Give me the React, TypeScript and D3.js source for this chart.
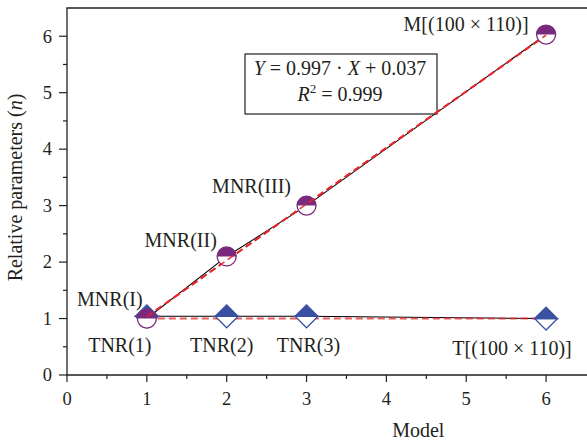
import React from 'react';
import * as d3 from 'd3';

const MODEL_X = [1, 2, 3, 6];
const M_VALUES = [1.0, 2.1, 3.0, 6.03];
const T_VALUES = [1.04, 1.04, 1.04, 1.0];
const M_LABELS = ['MNR(I)', 'MNR(II)', 'MNR(III)', 'M[(100 × 110)]'];
const T_LABELS = ['TNR(1)', 'TNR(2)', 'TNR(3)', 'T[(100 × 110)]'];

// Fit lines (red dashed)
const FIT_X = [1, 6];
const M_FIT = [1.034, 6.019];
const T_FIT = [1.0, 1.0];

const X_TICKS = [0, 1, 2, 3, 4, 5, 6];
const Y_TICKS = [0, 1, 2, 3, 4, 5, 6];

const W = 587;
const H = 445;
const margin = { top: 8, right: 1, bottom: 70, left: 67 };
const FONT = '"Liberation Serif", "DejaVu Serif", serif';
const TEXT = '#231f20';
const PURPLE = '#7a2a7c';
const BLUE = '#3a50a0';
const RED = '#e8262a';
const FS = 20;

export default function App() {
  const innerW = W - margin.left - margin.right;
  const innerH = H - margin.top - margin.bottom;

  const x = d3.scaleLinear().domain([0, 6.5]).range([0, innerW]);
  const y = d3.scaleLinear().domain([0, 6.5]).range([innerH, 0]);

  const line = d3.line<[number, number]>()
    .x((d) => x(d[0]))
    .y((d) => y(d[1]));

  const mPts = MODEL_X.map((v, i) => [v, M_VALUES[i]] as [number, number]);
  const tPts = MODEL_X.map((v, i) => [v, T_VALUES[i]] as [number, number]);
  const mFit = FIT_X.map((v, i) => [v, M_FIT[i]] as [number, number]);
  const tFit = FIT_X.map((v, i) => [v, T_FIT[i]] as [number, number]);

  const minorX = d3.range(0.5, 6.5, 1);
  const minorY = d3.range(0.5, 6.5, 1);

  const r = 9.5;
  const dSize = 11.5;

  // label offsets relative to point (dx, dy of text baseline)
  const mLabelPos = [
    [-37, -13],
    [-46, -9],
    [-55, -13],
    [-80, -4],
  ];
  const tLabelPos = [
    [-27, 36],
    [-5, 36],
    [2, 36],
    [-34, 36],
  ];

  // frame is cut off at the right edge of the picture
  const frameRight = innerW + 10;

  return (
    <svg width={W} height={H} style={{ position: 'absolute', left: 0, top: 0 }} fontFamily={FONT}>
      <rect width={W} height={H} fill="#fff" />
      <g transform={`translate(${margin.left},${margin.top})`}>
        {/* frame */}
        <path
          d={`M${frameRight},0H0V${innerH}H${frameRight}`}
          fill="none"
          stroke={TEXT}
          strokeWidth={1.3}
        />

        {/* x ticks */}
        {X_TICKS.map((t) => (
          <g key={`x${t}`} transform={`translate(${x(t)},${innerH})`}>
            <line y2={7} stroke={TEXT} strokeWidth={1.2} />
            <text y={30} textAnchor="middle" fontSize={18.5} fill={TEXT}>{t}</text>
          </g>
        ))}
        {minorX.map((t) => (
          <line key={`mx${t}`} x1={x(t)} x2={x(t)} y1={innerH} y2={innerH + 4} stroke={TEXT} strokeWidth={1.2} />
        ))}

        {/* y ticks */}
        {Y_TICKS.map((t) => (
          <g key={`y${t}`} transform={`translate(0,${y(t)})`}>
            <line x2={-8} stroke={TEXT} strokeWidth={1.2} />
            <text x={-15} dy="0.34em" textAnchor="end" fontSize={18.5} fill={TEXT}>{t}</text>
          </g>
        ))}
        {minorY.map((t) => (
          <line key={`my${t}`} y1={y(t)} y2={y(t)} x1={0} x2={-4} stroke={TEXT} strokeWidth={1.2} />
        ))}

        {/* axis labels */}
        <text x={x(4.4)} y={innerH + 62} textAnchor="middle" fontSize={FS} fill={TEXT}>Model</text>
        <text
          transform={`translate(-45,${innerH / 2 - 4}) rotate(-90)`}
          textAnchor="middle"
          fontSize={FS}
          fill={TEXT}
        >
          Relative parameters (<tspan fontStyle="italic">n</tspan>)
        </text>

        {/* equation box */}
        <rect x={178} y={46} width={192} height={60} fill="#fff" stroke={TEXT} strokeWidth={1.2} />
        <text x={273} y={67} textAnchor="middle" fontSize={FS} fill={TEXT}>
          <tspan fontStyle="italic">Y</tspan> = 0.997 · <tspan fontStyle="italic">X</tspan> + 0.037
        </text>
        <text x={273} y={93} textAnchor="middle" fontSize={FS} fill={TEXT}>
          <tspan fontStyle="italic">R</tspan>
          <tspan fontSize={13} dy={-8}>2</tspan>
          <tspan dy={8}> = 0.999</tspan>
        </text>

        {/* data lines */}
        <path d={line(mPts) ?? ''} fill="none" stroke="#000" strokeWidth={1.1} />
        <path d={line(tPts) ?? ''} fill="none" stroke="#000" strokeWidth={1.1} />
        <path d={line(mFit) ?? ''} fill="none" stroke={RED} strokeWidth={2} strokeDasharray="7,4" />
        <path d={line(tFit) ?? ''} fill="none" stroke={RED} strokeWidth={2} strokeDasharray="7,4" opacity={0.75} />

        {/* T markers: half-filled diamonds */}
        {tPts.map(([a, b], i) => (
          <g key={`t${i}`} transform={`translate(${x(a)},${y(b)})`}>
            <path d={`M${-dSize},0L0,${dSize}L${dSize},0Z`} fill="#fff" stroke={BLUE} strokeWidth={1.2} />
            <path d={`M${-dSize},0L0,${-dSize}L${dSize},0Z`} fill={BLUE} stroke={BLUE} strokeWidth={1.2} />
          </g>
        ))}

        {/* M markers: half-filled circles */}
        {mPts.map(([a, b], i) => (
          <g key={`m${i}`} transform={`translate(${x(a)},${y(b)})`}>
            <circle r={r} fill="#fff" stroke={PURPLE} strokeWidth={1.3} />
            <path d={`M${-r},0A${r},${r} 0 0 1 ${r},0Z`} fill={PURPLE} />
          </g>
        ))}

        {/* fit lines over markers */}
        <path d={line(mFit) ?? ''} fill="none" stroke={RED} strokeWidth={1.6} strokeDasharray="7,4" opacity={0.9} />

        {/* point labels */}
        {mPts.map(([a, b], i) => (
          <text
            key={`ml${i}`}
            x={x(a) + mLabelPos[i][0]}
            y={y(b) + mLabelPos[i][1]}
            textAnchor="middle"
            fontSize={FS}
            fill={TEXT}
          >
            {M_LABELS[i]}
          </text>
        ))}
        {tPts.map(([a, b], i) => (
          <text
            key={`tl${i}`}
            x={x(a) + tLabelPos[i][0]}
            y={y(b) + tLabelPos[i][1]}
            textAnchor="middle"
            fontSize={FS}
            fill={TEXT}
          >
            {T_LABELS[i]}
          </text>
        ))}
      </g>
    </svg>
  );
}
